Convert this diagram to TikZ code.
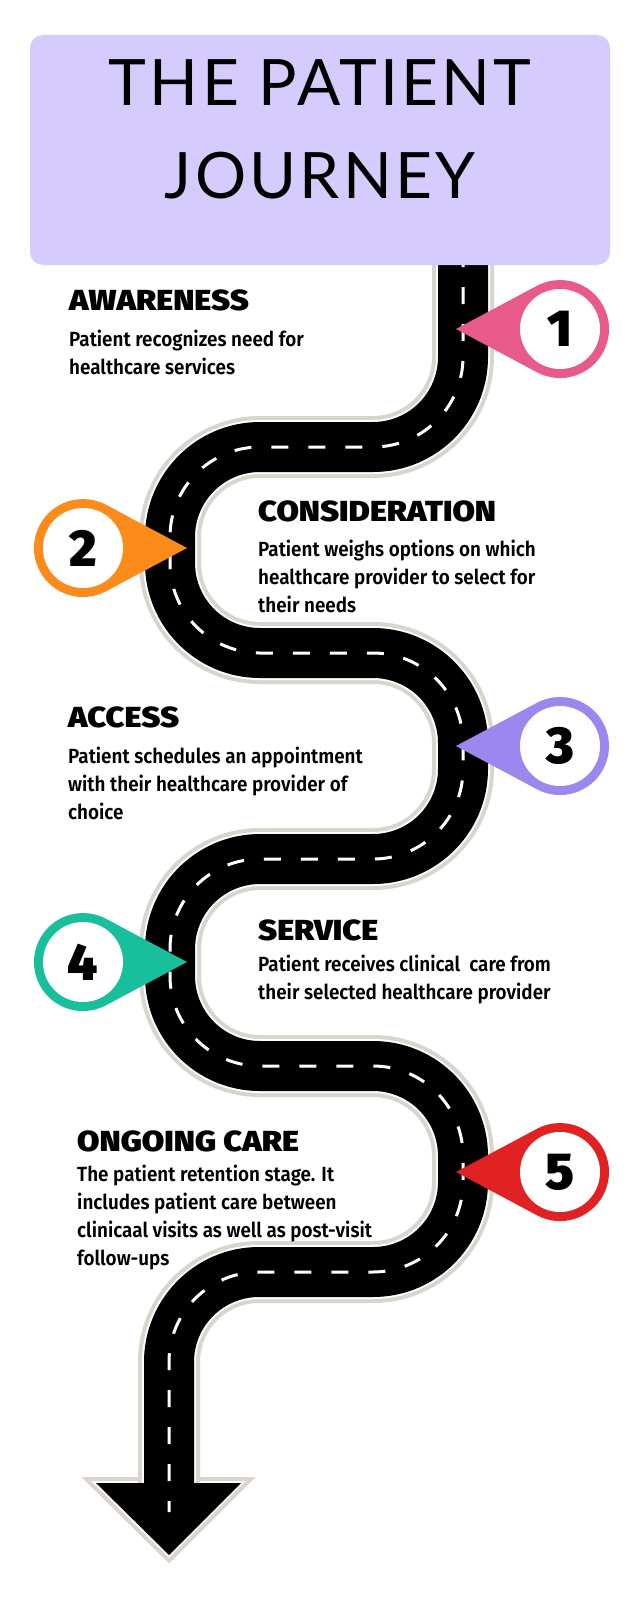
\documentclass[tikz,border=0pt]{standalone}
\usepackage{fontspec}
\setmainfont{Fira Sans}
\newfontfamily\titlefont{Lato}[LetterSpace=5]
\newfontfamily\headfont{Fira Sans Black}[FakeStretch=1.12]
\newfontfamily\numfont{Fira Sans Black}
\newfontfamily\bodyfont{Fira Sans SemiBold}[FakeStretch=0.92]
\usetikzlibrary{positioning}
\definecolor{roadgrey}{RGB}{217,213,206}
\definecolor{titlebg}{RGB}{213,203,252}
\definecolor{pinone}{RGB}{231,90,137}
\definecolor{pintwo}{RGB}{251,140,27}
\definecolor{pinthree}{RGB}{156,135,238}
\definecolor{pinfour}{RGB}{25,191,156}
\definecolor{pinfive}{RGB}{224,34,35}
\begin{document}
\begin{tikzpicture}[x=1pt, y=-1pt,
    roadedge/.style={draw=roadgrey, line width=62pt, rounded corners=90pt},
    roadgap/.style={draw=white, line width=54pt, rounded corners=90pt},
    roadtop/.style={draw=black, line width=50pt, rounded corners=90pt},
    roaddash/.style={draw=white, line width=3pt, rounded corners=90pt,
      dash pattern=on 17pt off 20pt},
    headtext/.style={anchor=base west, inner sep=0pt,
      font=\headfont\fontsize{29}{32}\selectfont},
    bodytext/.style={anchor=north west, inner sep=0pt, align=left,
      font=\bodyfont\fontsize{20.5}{28}\selectfont},
    titletext/.style={anchor=base, inner sep=0pt,
      font=\titlefont\fontsize{64}{70}\selectfont},
    pinnum/.style={inner sep=0pt, font=\numfont\fontsize{52}{52}\selectfont}]
  \useasboundingbox[fill=white] (0,0) rectangle (640,1600);

  % arrow head below the road
  \draw[roadgrey, line width=12pt, miter limit=20] (96,1483) -- (241,1483) -- (169,1555) -- cycle;
  \draw[white, line width=4pt, miter limit=20] (96,1483) -- (241,1483) -- (169,1555) -- cycle;

  % the road
  \draw[roadedge, postaction={roadgap}, postaction={roadtop}]
    (463,250) -- (463,447) -- (170,447) -- (170,653) -- (463,653)
    -- (463,859) -- (170,859) -- (170,1066) -- (463,1066)
    -- (463,1272) -- (169,1272) -- (169,1490);
  \fill[black] (96,1483) -- (241,1483) -- (169,1555) -- cycle;
  \draw[roaddash]
    (463,250) -- (463,447) -- (170,447) -- (170,653) -- (463,653)
    -- (463,859) -- (170,859) -- (170,1066) -- (463,1066)
    -- (463,1272) -- (169,1272) -- (169,1512);

  % title
  \fill[titlebg, rounded corners=13pt] (30,35) rectangle (610,265);
  \node[titletext] (title1) at (320,106) {THE PATIENT};
  \node[titletext] (title2) at (320,198) {JOURNEY};

  % pins
  \fill[pinone] (456,329) -- ++(81,43.3) arc[start angle=118, end angle=-118, radius=49] -- cycle;
  \fill[white] (560,329) circle[radius=40];
  \node[pinnum] (pin1) at (560,329) {1};
  \fill[pintwo] (187,548) -- ++(-81,43.3) arc[start angle=62, end angle=298, radius=49] -- cycle;
  \fill[white] (83,548) circle[radius=40];
  \node[pinnum] (pin2) at (83,548) {2};
  \fill[pinthree] (456,746) -- ++(81,43.3) arc[start angle=118, end angle=-118, radius=49] -- cycle;
  \fill[white] (560,746) circle[radius=40];
  \node[pinnum] (pin3) at (560,746) {3};
  \fill[pinfour] (187,962) -- ++(-81,43.3) arc[start angle=62, end angle=298, radius=49] -- cycle;
  \fill[white] (83,962) circle[radius=40];
  \node[pinnum] (pin4) at (83,962) {4};
  \fill[pinfive] (456,1172) -- ++(81,43.3) arc[start angle=118, end angle=-118, radius=49] -- cycle;
  \fill[white] (560,1172) circle[radius=40];
  \node[pinnum] (pin5) at (560,1172) {5};

  % stages
  \node[headtext] (awareness) at (69,310) {AWARENESS};
  \node[bodytext] (awarenesstext) at (69,329.5) {Patient recognizes need for\\healthcare services};
  \node[headtext] (consideration) at (258,521) {CONSIDERATION};
  \node[bodytext] (considerationtext) at (258,539.5) {Patient weighs options on which\\healthcare provider to select for\\their needs};
  \node[headtext] (access) at (68,727) {ACCESS};
  \node[bodytext] (accesstext) at (68,746.5) {Patient schedules an appointment\\with their healthcare provider of\\choice};
  \node[headtext] (service) at (258,940) {SERVICE};
  \node[bodytext] (servicetext) at (258,954.5) {Patient receives clinical\ \ care from\\their selected healthcare provider};
  \node[headtext] (ongoing) at (77,1151) {ONGOING CARE};
  \node[bodytext] (ongoingtext) at (77,1164.5) {The patient retention stage. It\\includes patient care between\\clinicaal visits as well as post-visit\\follow-ups};
\end{tikzpicture}
\end{document}
